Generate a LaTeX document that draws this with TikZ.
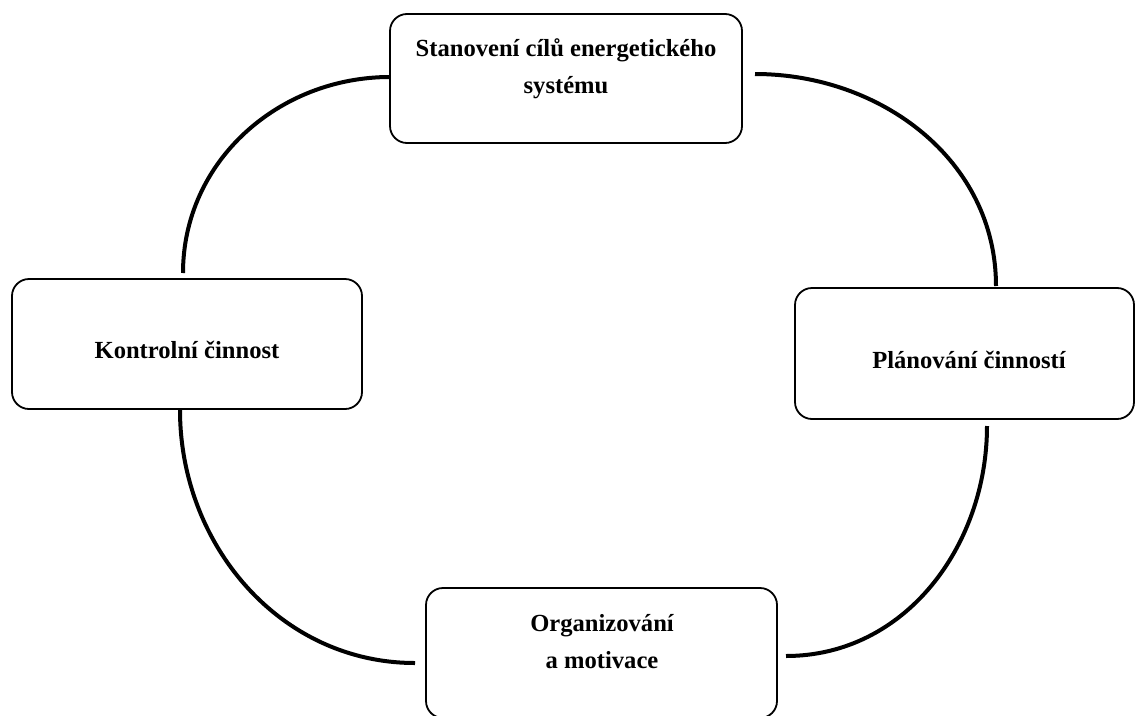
\documentclass[tikz,border=0pt]{standalone}
\usepackage{fontspec}
\setmainfont{Liberation Serif}
\begin{document}
\begin{tikzpicture}[x=1pt,y=-1pt,
  box/.style={draw, line width=1.8pt, rounded corners=17pt, inner sep=0pt},
  lbl/.style={font=\fontsize{24.6}{37}\selectfont\bfseries, align=center, inner sep=0pt},
  conn/.style={line width=4pt}]
\useasboundingbox (0,0) rectangle (1135,715);
% boxes
\node[box, minimum width=352pt, minimum height=129pt] (top) at (566,78.5) {};
\node[box, minimum width=350pt, minimum height=130pt] (left) at (187,344) {};
\node[box, minimum width=339pt, minimum height=131pt] (right) at (964.5,353.5) {};
\node[box, minimum width=351pt, minimum height=130pt] (bottom) at (601.5,653) {};
% texts
\node[lbl] (ttop) at (566,68.5) {Stanovení cílů energetického\\systému};
\node[lbl] (tleft) at (187,350) {Kontrolní činnost};
\node[lbl] (tright) at (969,360) {Plánování činností};
\node[lbl] (tbottom) at (602,642) {Organizování\\a motivace};
% connector ends
\coordinate (a1) at (390,77);
\coordinate (a2) at (183,273);
\coordinate (b1) at (755,74);
\coordinate (b2) at (996,286);
\coordinate (c1) at (987,426);
\coordinate (c2) at (786,656);
\coordinate (d1) at (180,410);
\coordinate (d2) at (415,663);
% connectors
\draw[conn] (a1) to[out=180,in=90] (a2);
\draw[conn] (b1) to[out=0,in=90] (b2);
\draw[conn] (c1) to[out=-90,in=0] (c2);
\draw[conn] (d1) to[out=-90,in=180] (d2);
\end{tikzpicture}
\end{document}
